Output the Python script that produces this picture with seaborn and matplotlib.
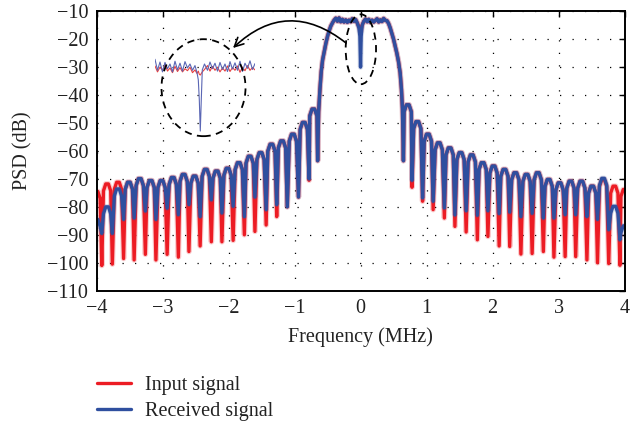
import matplotlib
matplotlib.use("Agg")
import matplotlib.pyplot as plt
import numpy as np
import pandas as pd
import seaborn as sns
from matplotlib.patches import Ellipse
from matplotlib.lines import Line2D

# ---------------- data ----------------
# sidelobes left of the main lobe (MHz / dB)
left_null_mhz = [-3.92, -3.76, -3.59, -3.43, -3.26, -3.10, -2.93, -2.76, -2.60, -2.43, -2.26,
                 -2.10, -1.93, -1.76, -1.60, -1.43, -1.27, -1.11, -0.94, -0.78, -0.65]
left_peak_mhz = [-3.84, -3.675, -3.51, -3.345, -3.18, -3.015, -2.845, -2.68, -2.515, -2.345,
                 -2.18, -2.015, -1.845, -1.68, -1.515, -1.35, -1.19, -1.025, -0.86, -0.715]
input_left_null = [-101, -100.5, -98.5, -99, -97, -99, -97, -98, -96, -94, -92.5,
                   -92.5, -92, -90, -88.8, -86.5, -83.5, -80, -76.5, -70.5, -63.5]
received_left_null = [-89.5, -89.5, -84.5, -84, -81.5, -84.5, -80.5, -82.8, -79.2, -83.5, -77.5,
                      -82.2, -79.8, -83.5, -76.5, -81, -79.2, -80, -76.5, -70, -63.5]
input_left_peak = [-71.8, -71.2, -71.2, -69.9, -70.6, -70.6, -69.5, -68.4, -69, -66.6,
                   -67.2, -66.2, -64.2, -61.9, -60.6, -57.6, -56.4, -54, -49.8, -45]
received_left_peak = [-80, -73.6, -71.2, -69.9, -70.6, -70.6, -69.5, -68.4, -69, -66.6,
                      -67.2, -66.2, -64.2, -61.9, -60.6, -57.6, -56.4, -54, -49.8, -45]
input_left_edge = -74.5
received_left_edge = -84.5

# main lobe
main_mhz = [-0.635, -0.615, -0.595, -0.575, -0.55, -0.525, -0.50, -0.475, -0.45, -0.425, -0.40,
            -0.375, -0.35, -0.325, -0.30, -0.275, -0.25, -0.225, -0.20, -0.175, -0.15, -0.125,
            -0.10, -0.075, -0.05, -0.025, -0.01, 0.0, 0.01, 0.025, 0.05, 0.075, 0.10, 0.125,
            0.15, 0.175, 0.20, 0.225, 0.25, 0.275, 0.30, 0.325, 0.35, 0.375, 0.40, 0.425,
            0.45, 0.475, 0.50, 0.525, 0.55, 0.575, 0.60, 0.62, 0.635]
input_main = [-46, -38, -31.5, -27.5, -24.5, -21.5, -19, -17, -15.3, -14.2, -13.2,
              -12.5, -13.6, -12.4, -13.8, -12.9, -13.9, -13.1, -14, -13.2, -13.8, -12.7,
              -13.6, -13, -14.2, -15.5, -16.5, -17.5, -16.5, -15, -13.6, -12.8, -13.8, -12.9,
              -14, -13.2, -13.9, -13.3, -12.7, -13.9, -13.1, -13.7, -12.6, -13.3, -13.4, -14.4,
              -16, -18, -20, -22.5, -25, -28, -32, -38, -45]
received_main = [-46, -38, -31.5, -27.5, -24.5, -21.5, -19, -17, -15.3, -14.2, -13.2,
                 -12.5, -13.6, -12.4, -13.8, -12.9, -13.9, -13.1, -14, -13.2, -13.8, -12.7,
                 -13.6, -13, -14.2, -16, -19, -30, -19, -15, -13.6, -12.8, -13.8, -12.9,
                 -14, -13.2, -13.9, -13.3, -12.7, -13.9, -13.1, -13.7, -12.6, -13.3, -13.4, -14.4,
                 -16, -18, -20, -22.5, -25, -28, -32, -38, -45]

# sidelobes right of the main lobe
right_null_mhz = [0.65, 0.78, 0.94, 1.10, 1.27, 1.43, 1.60, 1.77, 1.93, 2.10, 2.26,
                  2.43, 2.60, 2.77, 2.93, 3.10, 3.26, 3.43, 3.59, 3.76, 3.93]
right_peak_mhz = [0.715, 0.86, 1.02, 1.185, 1.35, 1.515, 1.685, 1.85, 2.015, 2.18,
                  2.345, 2.515, 2.685, 2.85, 3.015, 3.18, 3.345, 3.51, 3.675, 3.845]
input_right_null = [-63.5, -73, -78, -81, -84, -87, -89, -91.8, -90.6, -94, -94.2,
                    -96.9, -96.7, -96, -98, -97.8, -97.8, -99, -100, -100.3, -100.9]
received_right_null = [-63.5, -70.5, -76.8, -78, -80.4, -82.9, -81.4, -83, -81.4, -82.4, -81.9,
                       -83.5, -82.3, -84, -84, -82.8, -82.8, -83.5, -84.5, -88.2, -91.8]
input_right_peak = [-43.5, -49.5, -54, -57.1, -58.9, -60.6, -61.4, -64.2, -65.4, -66.6,
                    -67.8, -68.4, -67.8, -70.2, -71.4, -70.8, -70.8, -72.6, -70.2, -72.6]
received_right_peak = [-43.5, -49.5, -54, -57.1, -58.9, -60.6, -61.4, -64.2, -65.4, -66.6,
                       -67.8, -68.4, -67.8, -70.2, -71.4, -70.8, -70.8, -72.6, -69.8, -79.8]
input_right_edge = -73.8
received_right_edge = -86.8

# zoomed inset around the DC notch (kHz / dB)
inset_khz = [-50, -47.5, -45, -42.5, -40, -37.5, -35, -32.5, -30, -27.5, -25, -22.5, -20,
             -17.5, -15, -12.5, -10, -8, -6.7, -5.7, -4.7, -3.7, -2.7, -0.5, 2.5, 5, 7.5,
             10, 12.5, 15, 17.5, 20, 22.5, 25, 27.5, 30, 32.5, 35, 37.5, 40, 42.5, 45, 47.5, 50]
inset_input = [-13.5, -15, -13.8, -14.6, -13.2, -14.8, -14, -15.2, -13.6, -14.9, -13.9, -15, -14.2,
               -14.7, -13.8, -15.2, -14.5, -15.4, -14.8, -15.6, -15.8, -15.4, -15, -14.4, -13.4,
               -14.8, -13.6, -14.6, -13.8, -15, -14, -14.8, -13.5, -14.9, -13.9, -14.6, -13.5,
               -15.1, -13.8, -14.7, -13.4, -14.6, -13.9, -14.5]
inset_received = [-11.8, -14.6, -12.5, -15, -12.6, -14.2, -13, -15, -12.3, -14.5, -12.8, -14.8, -12.4,
                  -14, -13, -14.6, -13.4, -15.2, -17, -22, -30, -22, -14.5, -13, -14.6,
                  -12.5, -14.2, -12.8, -14.8, -12.6, -14.4, -13, -14.9, -12.4, -14.3, -12.7, -14.6,
                  -12.3, -14.9, -12.8, -14.1, -12.2, -14.4, -12.9]

legend_labels = ["Input signal", "Received signal"]
x_ticks = [-4, -3, -2, -1, 0, 1, 2, 3, 4]
y_ticks = [-110, -100, -90, -80, -70, -60, -50, -40, -30, -20, -10]

# ---------------- styling ----------------
RED = "#ec1c24"
BLUE = "#2f4f9f"
LW = 2.4
# drawing shape of one sidelobe arch around its peak: (MHz offset, dB below peak)
LOBE_SHAPE = [(-0.055, 2.5), (-0.02, 0.0), (0.02, 0.0), (0.055, 2.5)]

sns.set_theme(style="white")
plt.rcParams["font.family"] = ["Liberation Serif", "DejaVu Serif"]
plt.rcParams["axes.unicode_minus"] = True
FS = 14.5


def arch(fc, peak, f, d, keep=lambda x: True):
    for off, drop in LOBE_SHAPE:
        if keep(fc + off):
            f.append(fc + off)
            d.append(peak - drop)


def build(edge_l, lnull, lpeak, main_db, rnull, rpeak, edge_r):
    f, d = [], []
    arch(-4.0, edge_l, f, d, keep=lambda x: x >= -4.0)
    f.insert(0, -4.0); d.insert(0, edge_l)
    for i in range(len(left_peak_mhz)):
        f.append(left_null_mhz[i]); d.append(lnull[i])
        arch(left_peak_mhz[i], lpeak[i], f, d)
    f.append(left_null_mhz[-1]); d.append(lnull[-1])
    f += main_mhz; d += main_db
    f.append(right_null_mhz[0]); d.append(rnull[0])
    for i in range(len(right_peak_mhz)):
        arch(right_peak_mhz[i], rpeak[i], f, d)
        f.append(right_null_mhz[i + 1]); d.append(rnull[i + 1])
    arch(4.0, edge_r, f, d, keep=lambda x: x <= 4.0)
    f.append(4.0); d.append(edge_r)
    return pd.DataFrame({"Frequency (MHz)": f, "PSD (dB)": d})


df_in = build(input_left_edge, input_left_null, input_left_peak, input_main,
              input_right_null, input_right_peak, input_right_edge)
df_rx = build(received_left_edge, received_left_null, received_left_peak, received_main,
              received_right_null, received_right_peak, received_right_edge)

fig = plt.figure(figsize=(6.43, 4.30), dpi=100)
ax = fig.add_axes([0.1501, 0.3240, 0.8212, 0.6500])

# faint halo under each trace, then the trace itself
sns.lineplot(data=df_in, x="Frequency (MHz)", y="PSD (dB)", color=RED, lw=LW + 1.6, alpha=0.22,
             estimator=None, sort=False, ax=ax, zorder=2)
sns.lineplot(data=df_in, x="Frequency (MHz)", y="PSD (dB)", color=RED, lw=LW,
             estimator=None, sort=False, ax=ax, zorder=3)
sns.lineplot(data=df_rx, x="Frequency (MHz)", y="PSD (dB)", color=BLUE, lw=LW + 1.4, alpha=0.2,
             estimator=None, sort=False, ax=ax, zorder=3.5)
sns.lineplot(data=df_rx, x="Frequency (MHz)", y="PSD (dB)", color=BLUE, lw=LW,
             estimator=None, sort=False, ax=ax, zorder=4)

ax.set_xlim(-4, 4)
ax.set_ylim(-110, -10)
ax.set_xticks(x_ticks)
ax.set_yticks(y_ticks)
ax.grid(True, color="black", linestyle=(0, (1, 9)), lw=0.9)
ax.set_axisbelow(True)
for s in ax.spines.values():
    s.set_color("black")
    s.set_linewidth(1.4)
    s.set_zorder(6)
ax.tick_params(direction="in", length=4, width=1, top=True, right=True, colors="black",
               labelsize=FS, pad=6, labelcolor="#222222")
ax.set_xlabel("Frequency (MHz)", fontsize=FS, labelpad=7, color="#222222")
ax.set_ylabel("PSD (dB)", fontsize=FS, labelpad=10, color="#222222")

# inset: zoom of the DC region
ins = ax.inset_axes([-3.114, -54.3, 1.515, 31.05], transform=ax.transData)
ins.axis("off")
ins.set_xlim(-50, 50)
ins.set_ylim(-31, -9)
df_ii = pd.DataFrame({"k": inset_khz, "v": inset_input})
df_ir = pd.DataFrame({"k": inset_khz, "v": inset_received})
sns.lineplot(data=df_ii, x="k", y="v", color="#e84040", lw=0.8, estimator=None, sort=False, ax=ins)
sns.lineplot(data=df_ir, x="k", y="v", color="#5a66b4", lw=0.8, estimator=None, sort=False, ax=ins)
ins.set_xlabel(""); ins.set_ylabel("")

# dashed circle around the inset and ellipse around the notch
ax.add_patch(Ellipse((-2.379, -37.37), 1.273, 34.7, fill=False, ec="black", lw=1.3,
                     ls=(0, (4, 3)), zorder=6))
ax.add_patch(Ellipse((0.005, -23.63), 0.46, 25.0, fill=False, ec="black", lw=1.3,
                     ls=(0, (4, 3)), zorder=6))
ax.annotate("", xy=(-1.932, -23.17), xytext=(-0.22, -21.38),
            arrowprops=dict(arrowstyle="->", connectionstyle="arc3,rad=0.43", lw=1.2,
                            color="black", shrinkA=0, shrinkB=0, mutation_scale=16),
            zorder=6)

handles = [Line2D([], [], color=RED, lw=LW), Line2D([], [], color=BLUE, lw=LW)]
fig.legend(handles, legend_labels, loc="upper left", bbox_to_anchor=(0.151, 0.125),
           frameon=False, fontsize=FS, handlelength=1.7, handletextpad=0.7,
           labelspacing=0.35, borderpad=0, borderaxespad=0, labelcolor="#222222")

fig.savefig("out.png", dpi=100)
